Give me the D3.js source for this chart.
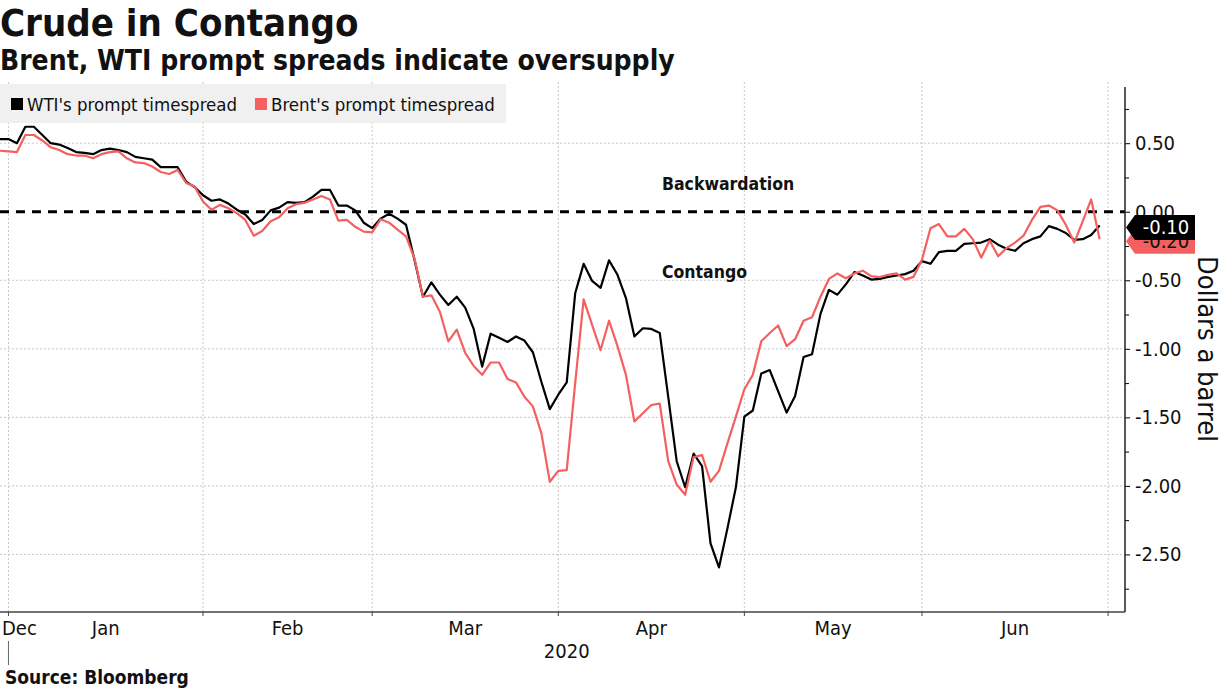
<!DOCTYPE html>
<html>
<head>
<meta charset="utf-8">
<script src="https://cdn.jsdelivr.net/npm/d3@7"></script>
<style>
body { margin: 0; background: #fff; }
text { font-family: "DejaVu Sans Condensed", "DejaVu Sans", sans-serif; font-stretch: condensed; fill: #111; }
</style>
</head>
<body>
<svg id="chart" width="1225" height="689"></svg>
<script>
//***************************************************************************
// Data: one value per trading day, 31 Dec 2019 .. 30 Jun 2020

var wti = [
	0.53, 0.53, 0.50, 0.62, 0.62, 0.56, 0.50, 0.49, 0.465, 0.435,
	0.43, 0.42, 0.45, 0.46, 0.45, 0.435, 0.40, 0.39, 0.38, 0.325,
	0.325, 0.325, 0.22, 0.18, 0.12, 0.08, 0.09, 0.06, 0.015, -0.02,
	-0.09, -0.06, 0.01, 0.03, 0.07, 0.065, 0.07, 0.11, 0.16, 0.16,
	0.045, 0.045, 0.01, -0.08, -0.12, -0.05, -0.015, -0.05, -0.095, -0.35,
	-0.62, -0.515, -0.605, -0.68, -0.62, -0.70, -0.855, -1.13, -0.89, -0.92,
	-0.95, -0.91, -0.94, -1.025, -1.24, -1.44, -1.335, -1.245, -0.595, -0.38,
	-0.505, -0.555, -0.355, -0.46, -0.63, -0.91, -0.85, -0.855, -0.885, -1.35,
	-1.82, -2.01, -1.765, -1.855, -2.42, -2.595, -2.31, -2.01, -1.495, -1.45,
	-1.18, -1.155, -1.31, -1.465, -1.345, -1.06, -1.04, -0.745, -0.57, -0.605,
	-0.53, -0.44, -0.465, -0.495, -0.49, -0.475, -0.465, -0.455, -0.43, -0.36,
	-0.38, -0.295, -0.285, -0.285, -0.235, -0.23, -0.225, -0.20, -0.24, -0.27,
	-0.285, -0.23, -0.20, -0.18, -0.105, -0.125, -0.155, -0.205, -0.20, -0.17,
	-0.10
];

var brent = [
	0.445, 0.44, 0.435, 0.56, 0.56, 0.52, 0.47, 0.45, 0.42, 0.41,
	0.41, 0.39, 0.42, 0.435, 0.44, 0.39, 0.36, 0.355, 0.33, 0.29,
	0.275, 0.305, 0.21, 0.185, 0.075, 0.015, 0.05, 0.025, -0.01, -0.06,
	-0.175, -0.14, -0.07, -0.04, 0.025, 0.055, 0.065, 0.09, 0.115, 0.09,
	-0.065, -0.06, -0.11, -0.145, -0.15, -0.055, -0.08, -0.13, -0.18, -0.34,
	-0.62, -0.61, -0.73, -0.945, -0.86, -1.03, -1.125, -1.19, -1.10, -1.10,
	-1.22, -1.245, -1.35, -1.42, -1.615, -1.97, -1.89, -1.885, -1.25, -0.64,
	-0.825, -1.01, -0.795, -0.98, -1.19, -1.53, -1.47, -1.41, -1.40, -1.82,
	-1.99, -2.065, -1.79, -1.775, -1.97, -1.89, -1.69, -1.495, -1.295, -1.19,
	-0.945, -0.885, -0.83, -0.98, -0.93, -0.795, -0.77, -0.62, -0.49, -0.45,
	-0.485, -0.45, -0.43, -0.47, -0.477, -0.46, -0.45, -0.495, -0.475, -0.35,
	-0.12, -0.09, -0.18, -0.18, -0.125, -0.20, -0.335, -0.21, -0.325, -0.265,
	-0.225, -0.175, -0.06, 0.035, 0.045, 0.01, -0.095, -0.225, -0.07, 0.09,
	-0.20
];

var seriesNames = ["WTI's prompt timespread", "Brent's prompt timespread"];
var seriesColors = ["#000000", "#f4605f"];
var yTicks = [0.5, 0, -0.5, -1, -1.5, -2, -2.5];
var yMinorTicks = [0.75, 0.25, -0.25, -0.75, -1.25, -1.75, -2.25, -2.75];
var monthLabels = ["Jan", "Feb", "Mar", "Apr", "May", "Jun"];
var monthStarts = ["2020-01-01", "2020-02-01", "2020-03-01", "2020-04-01", "2020-05-01", "2020-06-01", "2020-07-01"];

//***************************************************************************
// trading days (weekdays) that the values belong to

var parse = d3.timeParse("%Y-%m-%d");
var days = d3.timeDay.range(parse("2019-12-31"), parse("2020-07-01"))
	.filter(function(d) { return d.getDay() != 0 && d.getDay() != 6; });

function dayIndex(date) {
	for (var i = 0; i < days.length; ++i) {
		if (days[i] >= date) return i;
	}
	return days.length;
}

//***************************************************************************

var svg = d3.select("#chart");
var plotLeft = 0, plotRight = 1125, plotTop = 87, plotBottom = 612;

var x = d3.scaleLinear().domain([0, 133]).range([plotLeft, plotRight]);
var y = d3.scaleLinear().domain([-2.92, 0.91]).range([plotBottom, plotTop]);

svg.append("defs").append("clipPath").attr("id", "plotclip")
	.append("rect").attr("x", plotLeft).attr("y", plotTop)
	.attr("width", plotRight - plotLeft).attr("height", plotBottom - plotTop);

// titles
svg.append("text").attr("x", 0).attr("y", 36)
	.style("font-size", "38px").style("font-weight", "bold")
	.text("Crude in Contango");
svg.append("text").attr("x", 0).attr("y", 70)
	.style("font-size", "28px").style("font-weight", "bold")
	.text("Brent, WTI prompt spreads indicate oversupply");

// grid
var tickX = monthStarts.map(function(s) { return x(dayIndex(parse(s))); });

svg.append("g").selectAll("line").data(yTicks.filter(function(d) { return d != 0; }))
	.enter().append("line")
	.attr("x1", plotLeft).attr("x2", plotRight)
	.attr("y1", function(d) { return y(d); }).attr("y2", function(d) { return y(d); })
	.attr("stroke", "#c8c8c8").attr("stroke-dasharray", "2,2");

svg.append("g").selectAll("line").data(tickX)
	.enter().append("line")
	.attr("x1", function(d) { return d; }).attr("x2", function(d) { return d; })
	.attr("y1", plotTop - 5).attr("y2", plotBottom)
	.attr("stroke", "#c8c8c8").attr("stroke-dasharray", "2,2");

// legend
var legend = svg.append("g");
legend.append("rect").attr("x", 0).attr("y", 84).attr("width", 506).attr("height", 39)
	.attr("fill", "#f0f0f0");
var legendX = [11, 255];
seriesNames.forEach(function(name, i) {
	legend.append("rect").attr("x", legendX[i]).attr("y", 98)
		.attr("width", 12).attr("height", 12).attr("fill", seriesColors[i]);
	legend.append("text").attr("x", legendX[i] + 16).attr("y", 111)
		.style("font-size", "18.5px").text(name);
});

// zero line
svg.append("line")
	.attr("x1", plotLeft).attr("x2", plotRight)
	.attr("y1", y(0)).attr("y2", y(0))
	.attr("stroke", "#000").attr("stroke-width", 3)
	.attr("stroke-dasharray", "9,7");

// annotations
svg.append("text").attr("x", 662).attr("y", 190)
	.style("font-size", "17.5px").style("font-weight", "bold").text("Backwardation");
svg.append("text").attr("x", 662).attr("y", 278)
	.style("font-size", "17.5px").style("font-weight", "bold").text("Contango");

// lines
var line = d3.line()
	.x(function(d, i) { return x(i); })
	.y(function(d) { return y(d); });

var plot = svg.append("g").attr("clip-path", "url(#plotclip)");
[wti, brent].forEach(function(series, i) {
	plot.append("path")
		.datum(series)
		.attr("fill", "none")
		.attr("stroke", seriesColors[i])
		.attr("stroke-width", 2.2)
		.attr("stroke-linejoin", "round")
		.attr("d", line);
});

// right axis
var yAxis = svg.append("g").attr("transform", "translate(" + plotRight + ",0)")
	.call(d3.axisRight(y).tickValues(yTicks).tickSize(5).tickPadding(5)
		.tickFormat(function(d) { return d.toFixed(2); }));
yAxis.select(".domain").remove();
yAxis.selectAll("text").style("font-size", "20px").attr("fill", "#111");

var yMinor = svg.append("g").attr("transform", "translate(" + plotRight + ",0)")
	.call(d3.axisRight(y).tickValues(yMinorTicks).tickSize(4).tickFormat(""));
yMinor.select(".domain").remove();

svg.append("line").attr("x1", plotRight).attr("x2", plotRight)
	.attr("y1", plotTop).attr("y2", plotBottom).attr("stroke", "#222").attr("stroke-width", 1.5);

svg.append("text")
	.attr("transform", "translate(1198,349) rotate(90)")
	.attr("text-anchor", "middle")
	.style("font-size", "27px")
	.text("Dollars a barrel");

// bottom axis
svg.append("line").attr("x1", plotLeft).attr("x2", plotRight)
	.attr("y1", plotBottom).attr("y2", plotBottom).attr("stroke", "#444").attr("stroke-width", 1.5);

svg.append("g").selectAll("line").data(tickX)
	.enter().append("line")
	.attr("x1", function(d) { return d; }).attr("x2", function(d) { return d; })
	.attr("y1", plotBottom).attr("y2", plotBottom + 4)
	.attr("stroke", "#444");

svg.append("g").selectAll("text").data(monthLabels)
	.enter().append("text")
	.attr("x", function(d, i) { return (tickX[i] + tickX[i + 1]) / 2; })
	.attr("y", 635)
	.attr("text-anchor", "middle")
	.style("font-size", "20px")
	.text(function(d) { return d; });

svg.append("text").attr("x", 2).attr("y", 635)
	.style("font-size", "20px").text("Dec");

svg.append("line").attr("x1", tickX[0]).attr("x2", tickX[0])
	.attr("y1", 641).attr("y2", 665).attr("stroke", "#666");

svg.append("text").attr("x", (tickX[0] + plotRight) / 2).attr("y", 658)
	.attr("text-anchor", "middle").style("font-size", "20px").text("2020");

// end labels
function endLabel(series, color, textColor) {
	var v = series[series.length - 1];
	var cy = y(v) + 2;
	var g = svg.append("g");
	g.append("path")
		.attr("d", "M" + (plotRight + 1) + "," + cy
			+ "L" + (plotRight + 10) + "," + (cy - 12.5)
			+ "L1195," + (cy - 12.5)
			+ "L1195," + (cy + 12.5)
			+ "L" + (plotRight + 10) + "," + (cy + 12.5) + "Z")
		.attr("fill", color);
	g.append("text").attr("x", 1166).attr("y", cy + 7)
		.attr("text-anchor", "middle")
		.style("font-size", "20px")
		.style("fill", textColor)
		.text(v.toFixed(2));
}
endLabel(brent, seriesColors[1], "#111");
endLabel(wti, seriesColors[0], "#fff");

// source
svg.append("text").attr("x", 5).attr("y", 684)
	.style("font-size", "19px").style("font-weight", "bold")
	.text("Source: Bloomberg");
</script>
</body>
</html>
